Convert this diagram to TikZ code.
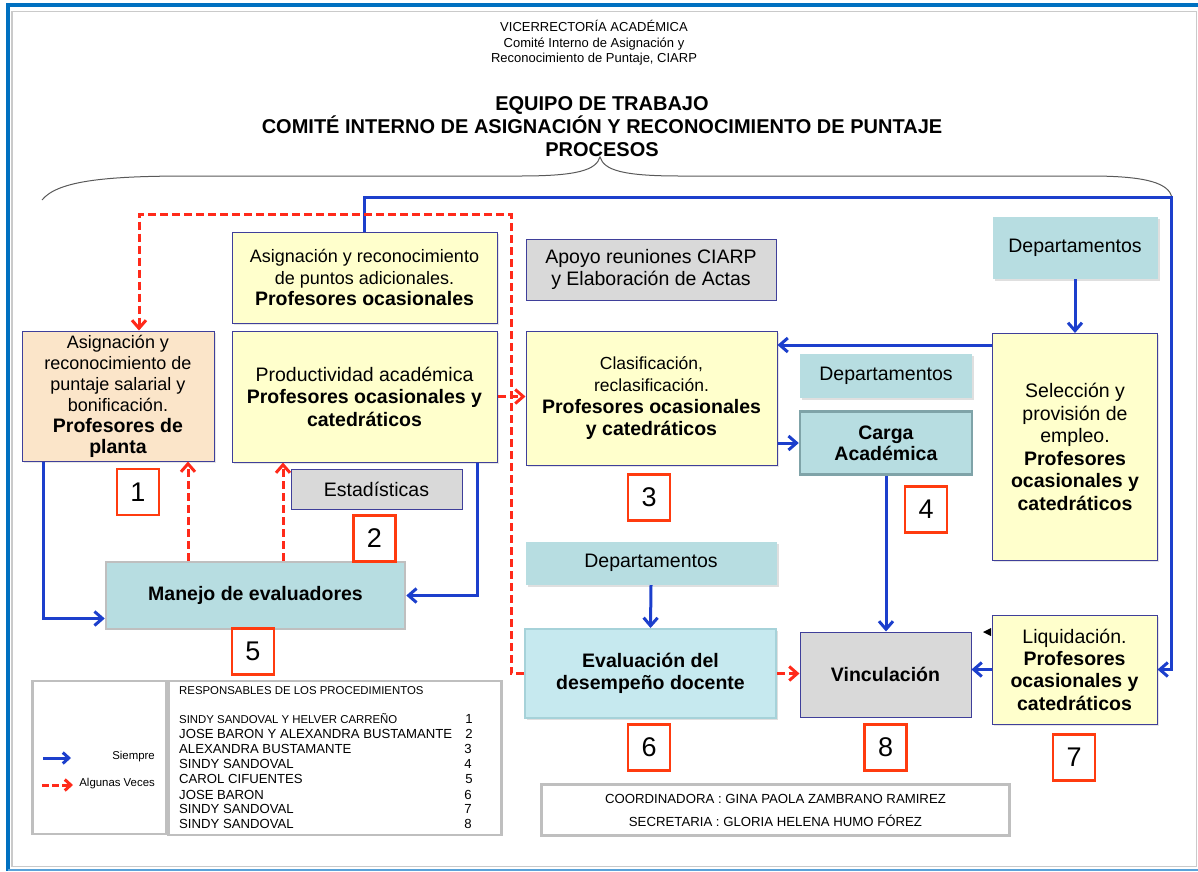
\documentclass[tikz,border=0pt]{standalone}
\usepackage{fontspec}
\setmainfont{Liberation Sans}
\usetikzlibrary{arrows.meta,shadows}

\definecolor{frameblue}{HTML}{0070C0}
\definecolor{framelight}{HTML}{5BA3D9}
\definecolor{framegrey}{HTML}{CACACA}
\definecolor{boxline}{HTML}{3F3F9A}
\definecolor{yelfill}{HTML}{FFFFCC}
\definecolor{peachfill}{HTML}{FBE5C9}
\definecolor{greyfill}{HTML}{D9D9D9}
\definecolor{tealfill}{HTML}{B7DDE1}
\definecolor{evalfill}{HTML}{C6E9EF}
\definecolor{evalline}{HTML}{A6D2D9}
\definecolor{cargaline}{HTML}{7FA3A8}
\definecolor{softgrey}{HTML}{BFBFBF}
\definecolor{numred}{HTML}{FF3B0F}
\definecolor{lineblue}{HTML}{1C3FCC}
\definecolor{linered}{HTML}{FF2A1A}

% bold line that is a bit larger than the box text
\newcommand{\pbold}[1]{{\fontsize{19.5}{22}\selectfont\bfseries #1}}

\begin{document}
\begin{tikzpicture}[%
    x=1pt, y=-1pt,                              % Pixel grid, y runs downwards
    >={Straight Barb[length=8pt,width=14pt]},   % Open barbs as in the original
    ]
% -------------------------------------------------
% Box styles and connector styles
\tikzset{
  base/.style={draw=boxline, line width=1pt, align=center, inner sep=2pt,
    font=\fontsize{19.5}{22.5}\selectfont},
  yel/.style={base, fill=yelfill,
    drop shadow={shadow xshift=1.5pt, shadow yshift=-1.5pt, opacity=.2}},
  peach/.style={base, fill=peachfill,
    drop shadow={shadow xshift=1.5pt, shadow yshift=-1.5pt, opacity=.2}},
  greybox/.style={base, fill=greyfill},
  tealbox/.style={base, draw=none, fill=tealfill},
  dept/.style={tealbox,
    drop shadow={shadow xshift=2pt, shadow yshift=-2.5pt, opacity=.25}},
  numbox/.style={draw=numred, line width=2.5pt, fill=white,
    minimum width=42, minimum height=46, font=\fontsize{27}{27}\selectfont},
  legbox/.style={draw=softgrey, line width=2.5pt},
  % Connector line styles
  siempre/.style={->, draw=lineblue, line width=3pt},
  algunas/.style={->, draw=linered, line width=3pt, dash pattern=on 8pt off 4pt},
  small/.style={font=\fontsize{11.4}{13}\selectfont, inner sep=0pt},
  names/.style={font=\fontsize{13.15}{15}\selectfont, inner sep=0pt}
}
% -------------------------------------------------
% Page frame and headings
\useasboundingbox (0,0) rectangle (1198,871);
\draw[framegrey, line width=1.2pt] (12,11.5) rectangle (1196.5,866.5);
\draw[frameblue, line width=4pt] (7.5,871) -- (7.5,5) -- (1198,5);
\draw[framelight, line width=2pt] (7.5,870) -- (1198,870);

\node[align=center, font=\fontsize{13}{15.5}\selectfont] (vice) at (594,43)
  {VICERRECTORÍA ACADÉMICA\\Comité Interno de Asignación y\\Reconocimiento de Puntaje, CIARP};
\node[align=center, font={\fontsize{20}{23}\selectfont\bfseries}] (title) at (602,127)
  {EQUIPO DE TRABAJO\\COMITÉ INTERNO DE ASIGNACIÓN Y RECONOCIMIENTO DE PUNTAJE\\PROCESOS};

% brace under the title
\draw[black!65, line width=1pt] (42,200) .. controls (58,180) and (110,176) .. (190,176)
  -- (520,176) .. controls (578,176) and (596,170) .. (600,157)
  .. controls (604,170) and (622,176) .. (680,176) -- (1090,176)
  .. controls (1150,176) and (1168,184) .. (1172,197);
% -------------------------------------------------
% Process boxes
\node[peach, minimum width=192, minimum height=130, font=\fontsize{18}{21}\selectfont] (planta) at (118,396)
  {Asignación y\\reconocimiento de\\puntaje salarial y\\bonificación.\\\pbold{Profesores de}\\\pbold{planta}};
\node[yel, minimum width=265, minimum height=91, font=\fontsize{18}{21.5}\selectfont] (adic) at (364.5,277.5)
  {Asignación y reconocimiento\\de puntos adicionales.\\\pbold{Profesores ocasionales}};
\node[yel, minimum width=265, minimum height=131] (produc) at (364.5,396.5)
  {Productividad académica\\\textbf{Profesores ocasionales y}\\\textbf{catedráticos}};
\node[greybox, minimum width=171, minimum height=40] (estad) at (376.5,489) {Estadísticas};
\node[greybox, minimum width=250, minimum height=61, font=\fontsize{19.5}{22}\selectfont] (apoyo) at (651,269.5)
  {Apoyo reuniones CIARP\\y Elaboración de Actas};
\node[yel, minimum width=251, minimum height=134, font=\fontsize{17.5}{22}\selectfont] (clasif) at (651.5,398)
  {Clasificación,\\reclasificación.\\\pbold{Profesores ocasionales}\\\pbold{y catedráticos}};
\node[dept, minimum width=165, minimum height=62] (deptA) at (1075,247.5) {Departamentos};
\node[dept, minimum width=172, minimum height=44] (deptB) at (886,375.5) {Departamentos};
\node[tealbox, draw=cargaline, line width=2.5pt, minimum width=172, minimum height=63,
  font=\fontsize{19.5}{21}\selectfont] (carga) at (886,443) {\textbf{Carga}\\\textbf{Académica}};
\node[yel, minimum width=165, minimum height=227, font=\fontsize{19.5}{22.6}\selectfont] (selec) at (1075,447)
  {Selección y\\provisión de\\empleo.\\\textbf{Profesores}\\\textbf{ocasionales y}\\\textbf{catedráticos}};
\node[tealbox, draw=softgrey, line width=2.5pt, minimum width=299, minimum height=67] (manejo) at (255.5,595.5)
  {\textbf{Manejo de evaluadores}};
\node[dept, minimum width=251, minimum height=43] (deptC) at (651,563) {Departamentos};
\node[tealbox, fill=evalfill, draw=evalline, line width=2pt, minimum width=251, minimum height=89,
  drop shadow={shadow xshift=1.5pt, shadow yshift=-2pt, opacity=.25}] (evalua) at (650.5,673.5)
  {\textbf{Evaluación del}\\\textbf{desempeño docente}};
\node[greybox, minimum width=171, minimum height=85] (vincu) at (885.5,674.5) {\textbf{Vinculación}};
\node[yel, minimum width=165, minimum height=109, font=\fontsize{19.5}{22.3}\selectfont] (liquid) at (1074.5,669.5)
  {Liquidación.\\\textbf{Profesores}\\\textbf{ocasionales y}\\\textbf{catedráticos}};
\fill (983,632) -- (991,628) -- (991,636) -- cycle;
% -------------------------------------------------
% Procedure numbers
\node[numbox] (n1) at (138,492) {1};
\node[numbox] (n2) at (374.5,538.5) {2};
\node[numbox] (n3) at (649,497.5) {3};
\node[numbox] (n4) at (926,509.5) {4};
\node[numbox] (n5) at (253,651.5) {5};
\node[numbox] (n6) at (649,747.5) {6};
\node[numbox] (n8) at (885.5,747.5) {8};
\node[numbox] (n7) at (1074,757.5) {7};
% -------------------------------------------------
% Connectors: always (blue)
\coordinate (btop) at (1171,197);
\coordinate (sel1) at ([yshift=-12pt]selec.north west);
\coordinate (pl0) at ([xshift=22pt]planta.south west);
\coordinate (pr0) at ([xshift=-20pt]produc.south east);
\coordinate (mj0) at ([yshift=-23pt]manejo.west);
\draw[siempre] (adic.north) |- (btop) |- (liquid.east);
\draw[siempre] (deptA.south) -- (selec.north);
\draw[siempre] (sel1) -- (sel1 -| clasif.east);
\draw[siempre] (clasif.east |- carga.west) -- (carga.west);
\draw[siempre] (carga.south) -- (carga.south |- vincu.north);
\draw[siempre] (liquid.west) -- (liquid.west -| vincu.east);
\draw[siempre] (deptC.south) -- (evalua.north);
\draw[siempre] (pl0) |- (mj0);
\draw[siempre] (pr0) |- (manejo.east);
% Connectors: sometimes (red, dashed)
\coordinate (rtop) at (511,214);
\coordinate (pl1) at ([xshift=21pt]planta.north);
\coordinate (mj1) at ([xshift=-67.5pt]manejo.north);
\coordinate (mj2) at ([xshift=27.5pt]manejo.north);
\draw[algunas] (evalua.west) -| (rtop) -| (pl1);
\draw[algunas] (mj1) -- (mj1 |- planta.south);
\draw[algunas] (mj2) -- (mj2 |- produc.south);
\draw[algunas] (produc.east) -- (produc.east -| clasif.west);
\draw[algunas] (evalua.east) -- (evalua.east -| vincu.west);
% -------------------------------------------------
% Legend and responsible people
\node[legbox, minimum width=134, minimum height=153] (legkey) at (99.5,757.5) {};
\node[legbox, minimum width=333, minimum height=154] (legresp) at (335,758) {};
\coordinate (ls0) at (43,758);
\coordinate (ls1) at (71,758);
\coordinate (la0) at (42,785);
\coordinate (la1) at (73,785);
\draw[siempre, >={Straight Barb[length=6pt,width=11pt]}] (ls0) -- (ls1);
\draw[algunas, dash pattern=on 7pt off 3pt, >={Straight Barb[length=6pt,width=11pt]}] (la0) -- (la1);
\node[small, anchor=east] (lsiem) at (155,757) {Siempre};
\node[small, anchor=east] (lalgu) at (155,784) {Algunas Veces};

\node[small, anchor=west] (resp) at (179,691) {RESPONSABLES DE LOS PROCEDIMIENTOS};
\node[small, anchor=west] (r1) at (179,719) {SINDY SANDOVAL Y HELVER CARREÑO};
\node[names, anchor=west] (r2) at (179,734) {JOSE BARON Y ALEXANDRA BUSTAMANTE};
\node[names, anchor=west] (r3) at (179,749) {ALEXANDRA BUSTAMANTE};
\node[names, anchor=west] (r4) at (179,764) {SINDY SANDOVAL};
\node[names, anchor=west] (r5) at (179,779) {CAROL CIFUENTES};
\node[names, anchor=west] (r6) at (179,795) {JOSE BARON};
\node[names, anchor=west] (r7) at (179,809) {SINDY SANDOVAL};
\node[names, anchor=west] (r8) at (179,824) {SINDY SANDOVAL};
\node[names, anchor=east] (k1) at (473,719) {1};
\node[names, anchor=east] (k2) at (473,734) {2};
\node[names, anchor=east] (k3) at (472,749) {3};
\node[names, anchor=east] (k4) at (472,764) {4};
\node[names, anchor=east] (k5) at (473,779) {5};
\node[names, anchor=east] (k6) at (472,795) {6};
\node[names, anchor=east] (k7) at (472,809) {7};
\node[names, anchor=east] (k8) at (472,824) {8};

\node[legbox, minimum width=468, minimum height=51, align=center,
  font=\fontsize{13.2}{23}\selectfont] (coord) at (775.5,810)
  {COORDINADORA : GINA PAOLA ZAMBRANO RAMIREZ\\SECRETARIA : GLORIA HELENA HUMO FÓREZ};
% -------------------------------------------------
\end{tikzpicture}
\end{document}
